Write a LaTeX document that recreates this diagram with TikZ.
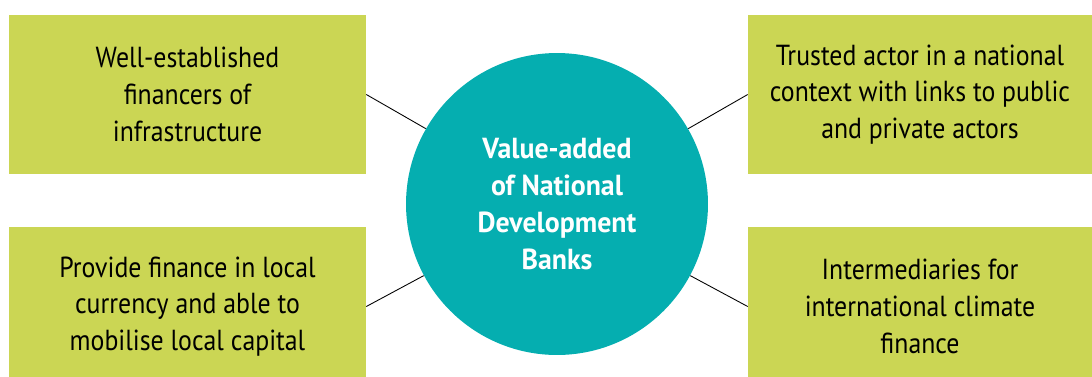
\documentclass[tikz,border=0pt]{standalone}
\usepackage{fontspec}
\setmainfont{PT Sans}[FakeStretch=0.89]
\newfontfamily\circfont{PT Sans}[FakeStretch=0.96]
\usepackage{xcolor}
\usepackage{tikz}
\definecolor{lime}{RGB}{203,214,84}
\definecolor{teal}{RGB}{5,174,176}
\tikzset{
  main node/.style={circle,fill=teal,text=white,minimum size=6.04cm,inner sep=0pt,
    align=center,font=\fontsize{16.5}{20.9}\selectfont\circfont\bfseries},
  box/.style={rectangle,fill=lime,inner sep=0pt,align=center,
    font=\fontsize{16.5}{20.9}\selectfont},
  link/.style={draw=black,line width=0.5pt}
}
\begin{document}
\begin{tikzpicture}[x=0.02cm,y=-0.02cm]
  \useasboundingbox (0,0) rectangle (1092,376);
        \node [main node] (0) at (557,204) {Value-added\\of National\\Development\\Banks};
        \node [box,minimum width=7.14cm,minimum height=3.18cm] (1) at (187.5,94.5)
          {Well-established\\financers of\\infrastructure};
        \node [box,minimum width=6.88cm,minimum height=3.18cm] (2) at (920,94.5)
          {Trusted actor in a national\\context with links to public\\and private actors};
        \node [box,minimum width=7.14cm,minimum height=3.18cm] (3) at (187.5,306.5)
          {Provide finance in local\\currency and able to\\mobilise local capital};
        \node [box,minimum width=6.88cm,minimum height=3.18cm] (4) at (920,306.5)
          {Intermediaries for\\international climate\\finance};
        \draw [link] (1.east) -- (0);
        \draw [link] (2.west) -- (0);
        \draw [link] (3.east) -- (0);
        \draw [link] (4.west) -- (0);
\end{tikzpicture}
\end{document}
